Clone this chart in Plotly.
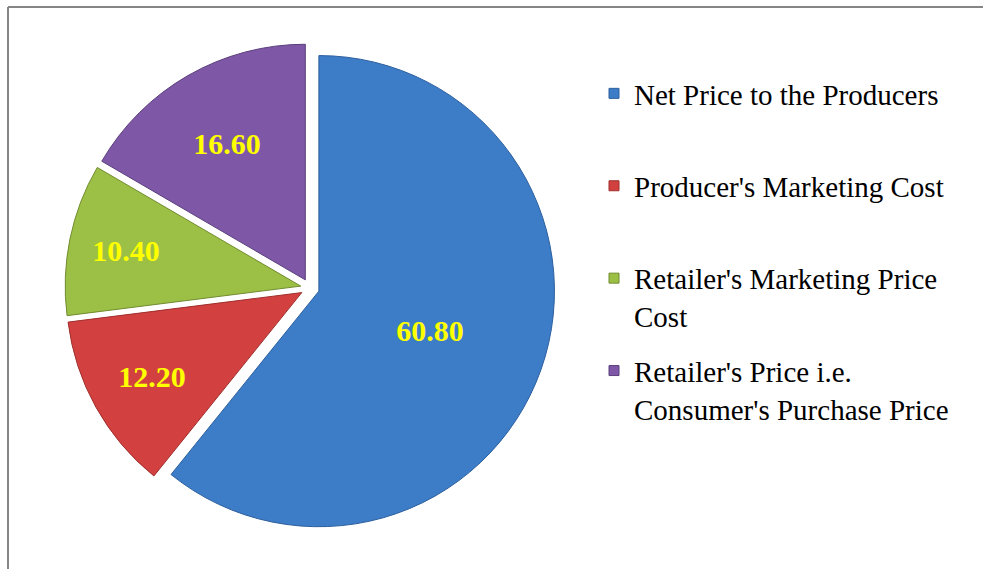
import plotly.graph_objects as go

labels = [
    "Net Price to the Producers",
    "Producer's Marketing Cost",
    "Retailer's Marketing Price Cost",
    "Retailer's Price i.e. Consumer's Purchase Price",
]
legend_names = [
    "Net Price to the Producers<br> ",
    "Producer's Marketing Cost<br> ",
    "Retailer's Marketing Price<br>Cost",
    "Retailer's Price i.e.<br>Consumer's Purchase Price",
]
values = [60.80, 12.20, 10.40, 16.60]
colors = ["#3D7CC7", "#D2413F", "#9CBF45", "#7E58A6"]
edge_colors = ["#2C5F9E", "#9E2F2D", "#718C2F", "#5B3F7C"]

W, H = 983, 569
cx, cy, r = 310, 288, 245  # pie box centre / half-size in px

fig = go.Figure()

fig.add_trace(go.Pie(
    labels=labels,
    values=values,
    sort=False,
    direction="clockwise",
    rotation=0,
    pull=[0.04] * len(values),
    marker=dict(colors=colors, line=dict(color=edge_colors, width=1)),
    texttemplate="%{value:.2f}",
    textposition="inside",
    insidetextorientation="horizontal",
    textfont=dict(family="Liberation Serif", size=30, color="#FFFF00", weight="bold"),
    showlegend=False,
    hoverinfo="label+value",
    domain=dict(x=[(cx - r) / W, (cx + r) / W], y=[(H - cy - r) / H, (H - cy + r) / H]),
))

# legend entries (one per slice)
for i, (nm, c, ec) in enumerate(zip(legend_names, colors, edge_colors)):
    fig.add_trace(go.Scatter(
        x=[None], y=[None], mode="markers", name=nm,
        legendgroup=f"g{i}",
        marker=dict(symbol="square", size=10, color=c, line=dict(color=ec, width=1)),
        hoverinfo="skip",
    ))

fig.update_layout(
    width=W, height=H,
    margin=dict(l=0, r=0, t=0, b=0, pad=0, autoexpand=False),
    paper_bgcolor="white",
    plot_bgcolor="white",
    xaxis=dict(visible=False),
    yaxis=dict(visible=False),
    showlegend=True,
    legend=dict(
        x=594 / W, xanchor="left",
        y=(H - 68) / H, yanchor="top",
        font=dict(family="Liberation Serif", size=29, color="black"),
        tracegroupgap=14,
        valign="top",
        bgcolor="rgba(0,0,0,0)",
    ),
    shapes=[
        dict(type="line", xref="paper", yref="paper",
             x0=8 / W, x1=1.0, y0=(H - 7) / H, y1=(H - 7) / H,
             line=dict(color="#858585", width=2)),
        dict(type="line", xref="paper", yref="paper",
             x0=8 / W, x1=8 / W, y0=0, y1=(H - 7) / H,
             line=dict(color="#858585", width=2)),
    ],
)

fig.write_html("out.html", config={"displayModeBar": False},
               post_script="document.body.style.margin='0';")
